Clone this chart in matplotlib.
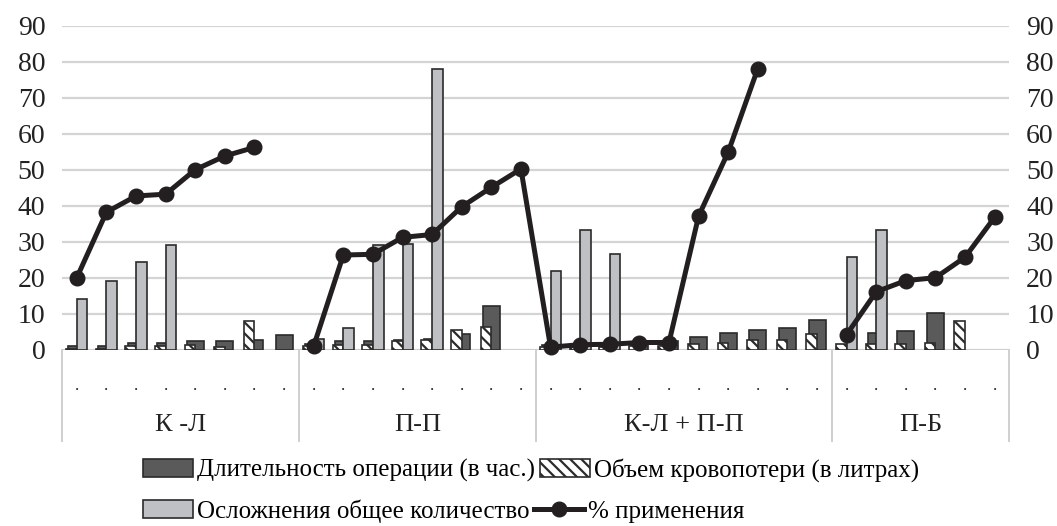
"""
plot.py
grouped bars + usage line by surgery type
"""

import numpy as np
import matplotlib
matplotlib.use("Agg")
import matplotlib.pyplot as plt
from matplotlib.patches import Patch
from matplotlib.lines import Line2D
from matplotlib.transforms import blended_transform_factory

nan = np.nan

groups = ["К -Л", "П-П", "К-Л + П-П", "П-Б"]
group_sizes = [8, 8, 10, 6]

# длительность операции (в час.)
duration = [1, 1, 2, 2, 2.5, 2.5, 2.8, 4.2,
            1.5, 2.3, 2.5, 2.8, 3.0, 4.3, 12.2, nan,
            1.2, 1.0, 1.0, 1.5, 2.5, 3.6, 4.6, 5.6, 6.1, 8.2,
            1.0, 4.6, 5.2, 10.2, nan, nan]

# объем кровопотери (в литрах)
blood_loss = [0.3, 0.3, 1, 1, 1.2, 0.8, 8.0, nan,
              1, 1.4, 1.4, 2.4, 2.8, 5.6, 6.3, nan,
              0.8, 0.8, 0.8, 1, 1, 1.6, 2, 2.8, 2.8, 4.3,
              1.5, 1.5, 1.6, 2, 8.0, nan]

# осложнения общее количество
complications = [14, 19.2, 24.3, 29, nan, nan, nan, nan,
                 3, 5.9, 29, 29.4, 78, nan, nan, nan,
                 21.8, 33.2, 26.6, nan, nan, nan, nan, nan, nan, nan,
                 25.7, 33.2, nan, nan, nan, nan]

# % применения
usage = [20, 38.2, 42.7, 43.2, 50, 53.8, 56.2, nan,
         1, 26.3, 26.5, 31.2, 32, 39.7, 45.1, 50.2,
         0.7, 1.4, 1.5, 2, 2, 37.1, 54.9, 78.1, nan, nan,
         4.2, 16.1, 19.2, 20, 25.7, 36.8]

labels = ["Длительность операции (в час.)", "Объем кровопотери (в литрах)",
          "Осложнения общее количество", "% применения"]

DARK = "#5a5a5a"
GREY = "#bfc0c3"
EDGE = "#2b2b2b"
FONT = "Liberation Serif"
FS = 19

plt.rcParams["font.family"] = [FONT, "DejaVu Serif"]
plt.rcParams["hatch.linewidth"] = 1.6

W, H = 1057, 526
fig = plt.figure(figsize=(W / 100, H / 100), dpi=100)
ax = fig.add_axes([62 / W, 1 - 349.7 / H, (1009.5 - 62) / W, (349.7 - 25.7) / H])

n = len(duration)
x = np.arange(n)


def draw_bars(vals, offset, width, **kw):
    v = np.array(vals, dtype=float)
    m = ~np.isnan(v)
    ax.bar(x[m] + offset, v[m], width=width, edgecolor=EDGE, linewidth=1.2, **kw)


draw_bars(duration, 0, 0.575, color=DARK, zorder=2)
draw_bars(blood_loss, -0.18, 0.36, color="white", hatch="\\\\\\", zorder=3)
draw_bars(complications, 0.18, 0.36, color=GREY, zorder=3)

ax.plot(x, usage, color="#231f20", linewidth=3.6, marker="o", markersize=10.5, zorder=5,
        clip_on=False)

ax.set_xlim(-0.5, n - 0.5)
ax.set_ylim(0, 90)
ax.set_yticks(range(0, 91, 10))
ax.yaxis.grid(True, color="#d4d4d4", linewidth=1.6, zorder=0)
ax.set_axisbelow(True)
for s in ax.spines.values():
    s.set_visible(False)
ax.axhline(0, color="#cfcfcf", linewidth=1.4, zorder=1)

ax.tick_params(axis="y", length=0, labelsize=20, pad=12, labelright=True,
               labelcolor="#222222")
ax.set_xticks([])

# category axis: dots per category, group labels and separators
trans = blended_transform_factory(ax.transData, ax.transAxes)
ax_h = 349.7 - 25.7
for xi in x:
    ax.text(xi, -(386 - 349.7) / ax_h, ".", transform=trans, ha="center", va="center",
            fontsize=12, color="#222222")

edges = np.concatenate([[0], np.cumsum(group_sizes)]) - 0.5
for e in edges:
    ax.plot([e, e], [0, -(441 - 349.7) / ax_h], transform=trans, color="#cfcfcf",
            linewidth=1.4, clip_on=False)
for g, a, b in zip(groups, edges[:-1], edges[1:]):
    ax.text((a + b) / 2, -(425 - 349.7) / ax_h, g, transform=trans, ha="center",
            va="center", fontsize=FS, color="#222222")

# legend, two rows like the original
h_dark = Patch(facecolor=DARK, edgecolor=EDGE, linewidth=1.2)
h_hatch = Patch(facecolor="white", edgecolor=EDGE, hatch="\\\\\\", linewidth=1.2)
h_grey = Patch(facecolor=GREY, edgecolor=EDGE, linewidth=1.2)
h_line = Line2D([], [], color="#231f20", linewidth=3.6, marker="o", markersize=10.5)

leg_kw = dict(frameon=False, fontsize=18, handlelength=2.0, handleheight=0.75,
              handletextpad=0.15, columnspacing=0.2, borderpad=0, borderaxespad=0,
              ncol=2, loc="center left")
fig.legend([h_dark, h_hatch], labels[:2], bbox_to_anchor=(143 / W, 1 - 470 / H), **leg_kw)
fig.legend([h_grey, h_line], labels[2:], bbox_to_anchor=(143 / W, 1 - 511 / H), **leg_kw)

fig.savefig("out.png", dpi=100)
